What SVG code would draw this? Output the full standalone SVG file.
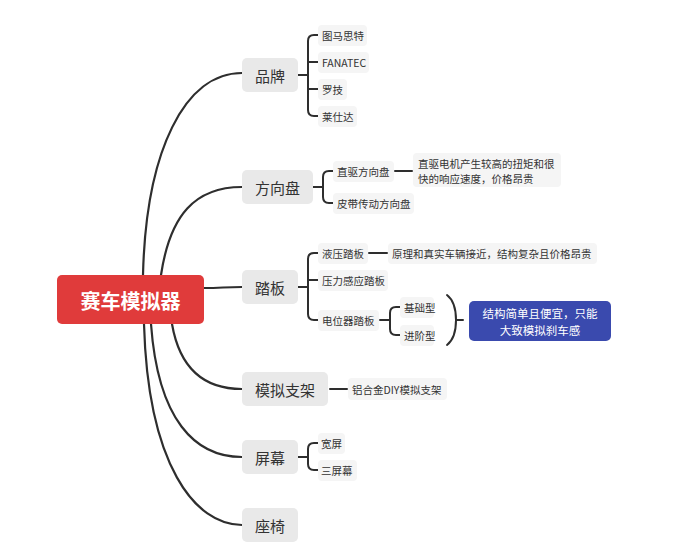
<svg xmlns="http://www.w3.org/2000/svg" width="687" height="556" viewBox="0 0 687 556">
<style>
text{font-family:"Noto Sans CJK SC","Noto Sans",sans-serif;fill:#333}
.l1 rect{fill:#e9e9e9}
.l1 text{font-size:15px;text-anchor:middle;dominant-baseline:central}
.l2 rect{fill:#f5f5f5}
.l2 text{font-size:10.5px;dominant-baseline:central}
.c{fill:none;stroke:#2e2e2e;stroke-width:2.2;stroke-linecap:round}
.b{fill:none;stroke:#2e2e2e;stroke-width:2;stroke-linecap:round}
.s{font-size:11.5px;text-anchor:middle;dominant-baseline:central;fill:#fff}
</style>
<rect width="687" height="556" fill="#fff"/>
<g id="connectors">
<path class="c" d="M143,275 C146,150 185,73 242,73"/>
<path class="c" d="M161,275 C170,215 195,187 242,187"/>
<path class="c" d="M204,288 C222,288 224,287 242,287"/>
<path class="c" d="M172,324 C180,370 205,389 242,389"/>
<path class="c" d="M151,324 C158,420 195,457 242,457"/>
<path class="c" d="M144,324 C148,465 195,525 242,525"/>
<path class="b" d="M298,75 H308 M318,35 H314 Q308,35 308,41 V110 Q308,116 314,116 H318 M308,62 H318 M308,89 H318"/>
<path class="b" d="M313,187 H322 M333,171 H329 Q323,171 323,177 V197 Q323,203 329,203 H333"/>
<path class="b" d="M395,171 H412"/>
<path class="b" d="M298,287 H308 M318,253 H314 Q308,253 308,259 V314 Q308,320 314,320 H318 M308,280 H318"/>
<path class="b" d="M369,253 H387"/>
<path class="b" d="M380,320 H390 M400,307 H396 Q390,307 390,313 V329 Q390,335 396,335 H400"/>
<path class="b" d="M447,295 Q456,302 456,320 Q456,338 447,345 M456,320 H463"/>
<path class="b" d="M330,389 H347"/>
<path class="b" d="M298,457 H308 M318,443 H314 Q308,443 308,449 V464 Q308,470 314,470 H318"/>
</g>
<g id="root">
<rect x="57" y="275" width="147" height="49" rx="5" fill="#e03b3b"/>
<text x="130.5" y="300" font-size="20" font-weight="bold" text-anchor="middle" dominant-baseline="central" style="fill:#fff">赛车模拟器</text>
</g>
<g id="n-brand" class="l1"><rect x="242" y="58" width="56" height="34" rx="5"/><text x="270" y="75">品牌</text></g>
<g id="n-wheel" class="l1"><rect x="242" y="170" width="71" height="34" rx="5"/><text x="277.5" y="187">方向盘</text></g>
<g id="n-pedal" class="l1"><rect x="242" y="270" width="56" height="34" rx="5"/><text x="270" y="287">踏板</text></g>
<g id="n-rig" class="l1"><rect x="242" y="372" width="86" height="34" rx="5"/><text x="285" y="389">模拟支架</text></g>
<g id="n-screen" class="l1"><rect x="242" y="440" width="56" height="34" rx="5"/><text x="270" y="457">屏幕</text></g>
<g id="n-seat" class="l1"><rect x="242" y="508" width="56" height="34" rx="5"/><text x="270" y="525">座椅</text></g>
<g id="n-tm" class="l2"><rect x="318" y="25" width="49" height="21" rx="4"/><text x="322" y="35.5">图马思特</text></g>
<g id="n-fanatec" class="l2"><rect x="318" y="52" width="51" height="21" rx="4"/><text x="322" y="62.5">FANATEC</text></g>
<g id="n-logi" class="l2"><rect x="318" y="79" width="29" height="21" rx="4"/><text x="322" y="89.5">罗技</text></g>
<g id="n-thrust" class="l2"><rect x="318" y="106" width="39" height="21" rx="4"/><text x="322" y="116.5">莱仕达</text></g>
<g id="n-dd" class="l2"><rect x="333" y="161" width="61" height="21" rx="4"/><text x="337" y="171">直驱方向盘</text></g>
<g id="n-dd-note" class="l2"><rect x="413" y="153" width="148" height="34" rx="4"/><text x="418" y="163">直驱电机产生较高的扭矩和很</text><text x="418" y="178">快的响应速度，价格昂贵</text></g>
<g id="n-belt" class="l2"><rect x="333" y="193" width="81" height="21" rx="4"/><text x="337" y="203">皮带传动方向盘</text></g>
<g id="n-hyd" class="l2"><rect x="318" y="243" width="50" height="21" rx="4"/><text x="322" y="253">液压踏板</text></g>
<g id="n-hyd-note" class="l2"><rect x="388" y="243" width="209" height="21" rx="4"/><text x="392" y="253">原理和真实车辆接近，结构复杂且价格昂贵</text></g>
<g id="n-load" class="l2"><rect x="318" y="270" width="70" height="21" rx="4"/><text x="322" y="280">压力感应踏板</text></g>
<g id="n-pot" class="l2"><rect x="318" y="310" width="61" height="21" rx="4"/><text x="322" y="320">电位器踏板</text></g>
<g id="n-basic" class="l2"><rect x="400" y="297" width="34" height="21" rx="4"/><text x="404" y="307">基础型</text></g>
<g id="n-adv" class="l2"><rect x="400" y="325" width="34" height="21" rx="4"/><text x="404" y="335">进阶型</text></g>
<g id="n-summary">
<rect x="469" y="301" width="142" height="40" rx="5" fill="#3a4aae"/>
<text class="s" x="540" y="313">结构简单且便宜，只能</text>
<text class="s" x="540" y="330">大致模拟刹车感</text>
</g>
<g id="n-alu" class="l2"><rect x="348" y="378" width="99" height="22" rx="4"/><text x="352" y="389">铝合金DIY模拟支架</text></g>
<g id="n-wide" class="l2"><rect x="318" y="433" width="27" height="21" rx="4"/><text x="321" y="443">宽屏</text></g>
<g id="n-triple" class="l2"><rect x="318" y="460" width="39" height="21" rx="4"/><text x="321" y="470">三屏幕</text></g>
</svg>
